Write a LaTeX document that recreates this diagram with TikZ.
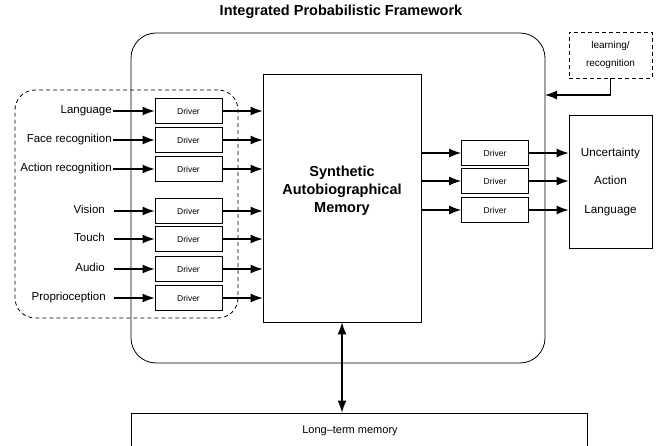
\documentclass[tikz,border=0pt]{standalone}
\usepackage{fontspec}
\setmainfont{Liberation Sans}
\usetikzlibrary{arrows.meta}

\begin{document}
\begin{tikzpicture}[x=1pt,y=-1pt,
  box/.style={draw,line width=0.8pt,inner sep=0pt},
  driver/.style={box,minimum width=67pt,minimum height=25pt,font=\fontsize{8.5}{10}\selectfont},
  sense/.style={anchor=east,inner ysep=0pt,inner xsep=1pt,text height=8.3pt,text depth=2.3pt,font=\fontsize{11.5}{14}\selectfont},
  arr/.style={line width=1.2pt,-{Latex[length=12pt,width=9pt]}}]
  \useasboundingbox (0,0) rectangle (667,446);
  \clip (0,0) rectangle (667,446);

  \node[font=\bfseries\fontsize{14.5}{17}\selectfont] (title) at (341,12) {Integrated Probabilistic Framework};
  \node[box,rounded corners=25pt,minimum width=414pt,minimum height=330pt] (frame) at (338,198) {};
  \node[box,dashed,dash pattern=on 4pt off 3pt,rounded corners=20pt,minimum width=223pt,minimum height=228pt] (group) at (126.5,204) {};

  % sensory inputs
  \node[sense] (lang) at (113,111) {Language};
  \node[sense] (face) at (113,140) {Face recognition};
  \node[sense] (act) at (113,169) {Action recognition};
  \node[sense,inner xsep=9pt] (vis) at (114,211) {Vision};
  \node[sense,inner xsep=9pt] (touch) at (114,239) {Touch};
  \node[sense,inner xsep=9pt] (audio) at (114,269) {Audio};
  \node[sense,inner xsep=8pt] (prop) at (114,298) {Proprioception};

  \node[driver] (dlang) at (188.5,111) {Driver};
  \node[driver] (dface) at (188.5,140) {Driver};
  \node[driver] (dact) at (188.5,169) {Driver};
  \node[driver] (dvis) at (188.5,211) {Driver};
  \node[driver] (dtouch) at (188.5,239) {Driver};
  \node[driver] (daudio) at (188.5,269) {Driver};
  \node[driver] (dprop) at (188.5,298) {Driver};

  \node[box,minimum width=158pt,minimum height=248pt] (sam) at (342,198) {};
  \node[font=\bfseries\fontsize{14.5}{18}\selectfont,align=center] (samtext) at (342,191) {Synthetic\\Autobiographical\\Memory};

  \draw[arr] (lang.east) -- (dlang.west);
  \draw[arr] (face.east) -- (dface.west);
  \draw[arr] (act.east) -- (dact.west);
  \draw[arr] (vis.east) -- (dvis.west);
  \draw[arr] (touch.east) -- (dtouch.west);
  \draw[arr] (audio.east) -- (daudio.west);
  \draw[arr] (prop.east) -- (dprop.west);

  \draw[arr] (dlang.east) -- (dlang.east -| sam.west);
  \draw[arr] (dface.east) -- (dface.east -| sam.west);
  \draw[arr] (dact.east) -- (dact.east -| sam.west);
  \draw[arr] (dvis.east) -- (dvis.east -| sam.west);
  \draw[arr] (dtouch.east) -- (dtouch.east -| sam.west);
  \draw[arr] (daudio.east) -- (daudio.east -| sam.west);
  \draw[arr] (dprop.east) -- (dprop.east -| sam.west);

  % outputs
  \node[driver] (drvu) at (495,153) {Driver};
  \node[driver] (drva) at (495,181) {Driver};
  \node[driver] (drvl) at (495,210) {Driver};
  \node[box,minimum width=83pt,minimum height=133pt,align=center,font=\fontsize{11.7}{28.5}\selectfont] (ual) at (610.5,181.5) {Uncertainty\\Action\\Language};

  \draw[arr] (sam.east |- drvu) -- (drvu.west);
  \draw[arr] (sam.east |- drva) -- (drva.west);
  \draw[arr] (sam.east |- drvl) -- (drvl.west);
  \draw[arr] (drvu.east) -- (drvu.east -| ual.west);
  \draw[arr] (drva.east) -- (drva.east -| ual.west);
  \draw[arr] (drvl.east) -- (drvl.east -| ual.west);

  \node[box,dashed,dash pattern=on 4pt off 3pt,minimum width=83pt,minimum height=46pt,align=center,font=\fontsize{10}{18}\selectfont] (learn) at (610.5,55) {learning/\\recognition};
  \coordinate (lin) at (545,95);
  \draw[arr] (learn.south) |- (lin);

  % long-term memory
  \node[box,minimum width=456pt,minimum height=36pt] (ltm) at (359,431) {};
  \node[font=\fontsize{11}{13}\selectfont] (ltmtext) at (350,431) {Long–term memory};
  \draw[line width=1.2pt,{Latex[length=12pt,width=9pt]}-{Latex[length=12pt,width=9pt]}] (sam.south) -- (sam.south |- ltm.north);
\end{tikzpicture}
\end{document}
